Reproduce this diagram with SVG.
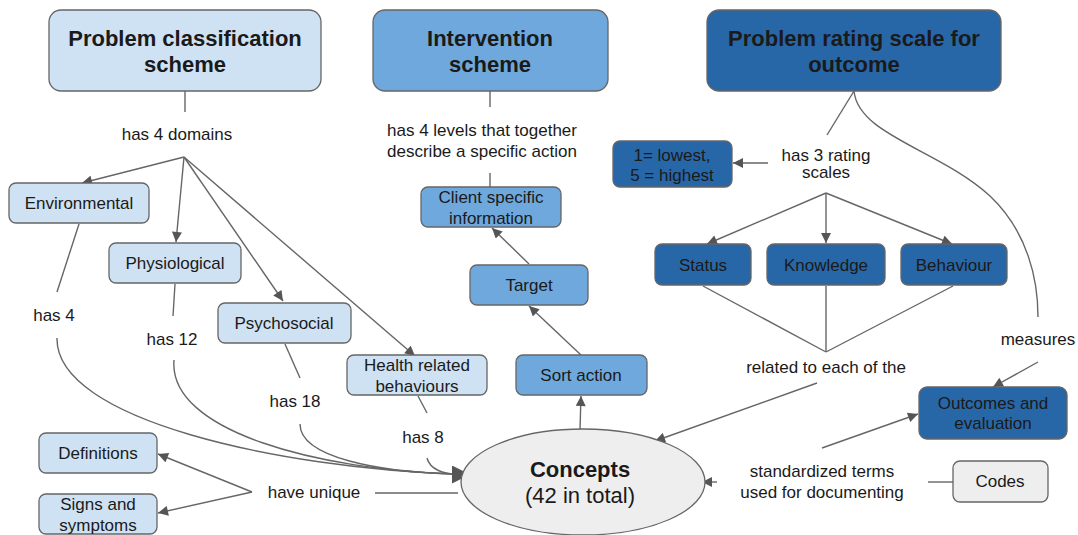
<svg xmlns="http://www.w3.org/2000/svg" width="1078" height="535" viewBox="0 0 1078 535">
<style>
.box{stroke:#666;stroke-width:1.3}
.l1{fill:#cfe2f3}.l2{fill:#6fa8dc}.d{fill:#2867a7}.g{fill:#eeeeee}
text{font-family:"Liberation Sans",Arial,sans-serif;fill:#1a1a1a;text-anchor:middle;dominant-baseline:central}
.t{font-size:22px;font-weight:bold}
.n{font-size:17px}
.c{fill:none;stroke:#666;stroke-width:1.4}
</style>
<defs>
<marker id="a" viewBox="0 0 10 10" refX="10" refY="5" markerWidth="11" markerHeight="10" markerUnits="userSpaceOnUse" orient="auto"><path d="M0,0L10,5L0,10z" fill="#555"/></marker>
<marker id="b" viewBox="0 0 10 10" refX="10" refY="5" markerWidth="19" markerHeight="18" markerUnits="userSpaceOnUse" orient="auto"><path d="M0,0L10,5L0,10z" fill="#555"/></marker>
</defs>
<g id="connectors">
<line class="c" x1="185" y1="91" x2="185" y2="112"/>
<line class="c" x1="184" y1="157" x2="82" y2="183" marker-end="url(#a)"/>
<line class="c" x1="184" y1="157" x2="176" y2="242" marker-end="url(#a)"/>
<line class="c" x1="184" y1="157" x2="283" y2="301" marker-end="url(#a)"/>
<line class="c" x1="184" y1="157" x2="415" y2="356" marker-end="url(#a)"/>
<line class="c" x1="79" y1="224" x2="57" y2="292"/>
<line class="c" x1="175" y1="284" x2="173" y2="316"/>
<line class="c" x1="285" y1="344" x2="300" y2="378"/>
<line class="c" x1="418" y1="396" x2="427" y2="413"/>
<path class="c" d="M57,338 C55,420 280,468 455,474"/>
<path class="c" d="M174,360 C168,432 320,470 455,474"/>
<path class="c" d="M300,424 C300,458 380,472 455,474"/>
<path class="c" d="M427,458 C430,470 445,474 455,474"/>
<line class="c" x1="452" y1="474.5" x2="470" y2="474.5" marker-end="url(#b)"/>
<line class="c" x1="375" y1="493" x2="458" y2="493"/>
<line class="c" x1="252" y1="492" x2="158" y2="454" marker-end="url(#a)"/>
<line class="c" x1="252" y1="492" x2="158" y2="513" marker-end="url(#a)"/>
<line class="c" x1="490" y1="91" x2="490" y2="107"/>
<line class="c" x1="490" y1="173" x2="490" y2="187"/>
<line class="c" x1="529" y1="264" x2="492" y2="228" marker-end="url(#a)"/>
<line class="c" x1="581" y1="355" x2="529" y2="306" marker-end="url(#a)"/>
<line class="c" x1="580" y1="429" x2="581" y2="396" marker-end="url(#a)"/>
<line class="c" x1="854" y1="91" x2="827" y2="135"/>
<path class="c" d="M854,91 C858,135 940,150 990,196 C1028,232 1038,280 1038,317"/>
<line class="c" x1="768" y1="163" x2="733" y2="163" marker-end="url(#a)"/>
<line class="c" x1="826" y1="193" x2="707" y2="244" marker-end="url(#a)"/>
<line class="c" x1="826" y1="193" x2="826" y2="243" marker-end="url(#a)"/>
<line class="c" x1="826" y1="193" x2="952" y2="244" marker-end="url(#a)"/>
<line class="c" x1="703" y1="286" x2="826" y2="352"/>
<line class="c" x1="826" y1="286" x2="826" y2="352"/>
<line class="c" x1="953" y1="286" x2="826" y2="352"/>
<line class="c" x1="817" y1="383" x2="655" y2="441" marker-end="url(#a)"/>
<line class="c" x1="1038" y1="362" x2="993" y2="387" marker-end="url(#a)"/>
<line class="c" x1="822" y1="448" x2="918" y2="414" marker-end="url(#a)"/>
<line class="c" x1="953" y1="482" x2="928" y2="482"/>
<line class="c" x1="717" y1="482" x2="702" y2="482" marker-end="url(#a)"/>
</g>
<g id="problem-classification"><rect class="box l1" x="49" y="10" width="272" height="81" rx="12"/><text class="t" x="185" y="38">Problem classification</text><text class="t" x="185" y="64">scheme</text></g>
<g id="intervention"><rect class="box l2" x="373" y="10" width="235" height="81" rx="12"/><text class="t" x="490" y="38">Intervention</text><text class="t" x="490" y="64">scheme</text></g>
<g id="rating"><rect class="box d" x="707" y="10" width="294" height="81" rx="12"/><text class="t" x="854" y="38">Problem rating scale for</text><text class="t" x="854" y="64">outcome</text></g>
<g id="lbl-has4domains"><text class="n" x="177" y="134">has 4 domains</text></g>
<g id="environmental"><rect class="box l1" x="9" y="183" width="140" height="40" rx="7"/><text class="n" x="79" y="203">Environmental</text></g>
<g id="physiological"><rect class="box l1" x="109" y="243" width="132" height="40" rx="7"/><text class="n" x="175" y="263">Physiological</text></g>
<g id="psychosocial"><rect class="box l1" x="218" y="303" width="133" height="40" rx="7"/><text class="n" x="284" y="323">Psychosocial</text></g>
<g id="health"><rect class="box l1" x="347" y="355" width="140" height="40" rx="7"/><text class="n" x="417" y="365">Health related</text><text class="n" x="417" y="386">behaviours</text></g>
<g id="lbl-has4"><text class="n" x="54" y="315">has 4</text></g>
<g id="lbl-has12"><text class="n" x="172" y="339">has 12</text></g>
<g id="lbl-has18"><text class="n" x="295" y="401">has 18</text></g>
<g id="lbl-has8"><text class="n" x="423" y="437">has 8</text></g>
<g id="definitions"><rect class="box l1" x="39" y="433" width="118" height="40" rx="7"/><text class="n" x="98" y="453">Definitions</text></g>
<g id="signs"><rect class="box l1" x="39" y="494" width="118" height="40" rx="7"/><text class="n" x="98" y="504">Signs and</text><text class="n" x="98" y="525">symptoms</text></g>
<g id="lbl-haveunique"><text class="n" x="314" y="492">have unique</text></g>
<g id="lbl-has4levels"><text class="n" x="482" y="130">has 4 levels that together</text><text class="n" x="482" y="151">describe a specific action</text></g>
<g id="client"><rect class="box l2" x="421" y="187" width="140" height="40" rx="7"/><text class="n" x="491" y="197">Client specific</text><text class="n" x="491" y="218">information</text></g>
<g id="target"><rect class="box l2" x="470" y="265" width="118" height="40" rx="7"/><text class="n" x="529" y="285">Target</text></g>
<g id="sort"><rect class="box l2" x="516" y="355" width="131" height="40" rx="7"/><text class="n" x="581" y="375">Sort action</text></g>
<g id="concepts"><ellipse cx="583" cy="482" rx="122" ry="53" fill="#eeeeee" stroke="#666" stroke-width="1.3"/><text x="580" y="469" style="font-size:22px;font-weight:bold">Concepts</text><text x="580" y="495" style="font-size:22px">(42 in total)</text></g>
<g id="lbl-has3"><text class="n" x="826" y="155">has 3 rating</text><text class="n" x="826" y="172">scales</text></g>
<g id="lowest"><rect class="box d" x="613" y="141" width="119" height="46" rx="7"/><text class="n" x="672" y="155">1= lowest,</text><text class="n" x="672" y="175">5 = highest</text></g>
<g id="status"><rect class="box d" x="655" y="244" width="96" height="41" rx="7"/><text class="n" x="703" y="265">Status</text></g>
<g id="knowledge"><rect class="box d" x="767" y="244" width="118" height="41" rx="7"/><text class="n" x="826" y="265">Knowledge</text></g>
<g id="behaviour"><rect class="box d" x="901" y="244" width="106" height="41" rx="7"/><text class="n" x="954" y="265">Behaviour</text></g>
<g id="lbl-related"><text class="n" x="826" y="367">related to each of the</text></g>
<g id="lbl-measures"><text class="n" x="1038" y="339">measures</text></g>
<g id="outcomes"><rect class="box d" x="919" y="387" width="148" height="52" rx="8"/><text class="n" x="993" y="403">Outcomes and</text><text class="n" x="993" y="423">evaluation</text></g>
<g id="lbl-standardized"><text class="n" x="822" y="471">standardized terms</text><text class="n" x="822" y="492">used for documenting</text></g>
<g id="codes"><rect class="box g" x="953" y="461" width="95" height="41" rx="7"/><text class="n" x="1000" y="481">Codes</text></g>
</svg>
